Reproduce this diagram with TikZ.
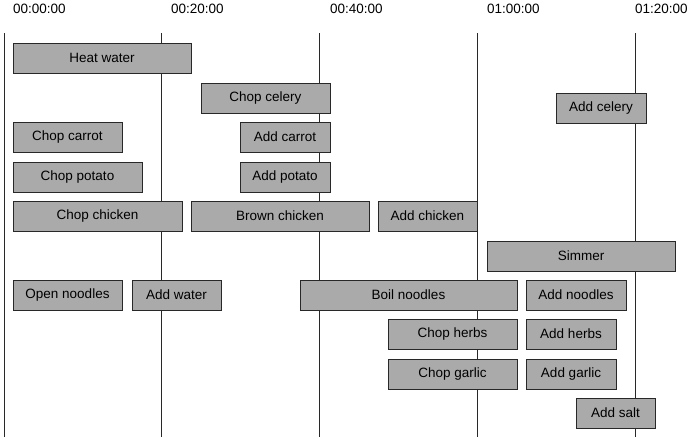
\documentclass[tikz,border=0pt]{standalone}
\usepackage{fontspec}
\setmainfont{Liberation Sans}
\usepackage{tikz}
\definecolor{taskgray}{RGB}{170,170,170}
\definecolor{edgegray}{RGB}{40,40,40}

\begin{document}
\begin{tikzpicture}[x=1pt,y=-1pt]
\tikzstyle{task} = [rectangle, anchor=north west, minimum height=30pt, inner sep=0pt, outer sep=0pt, draw=edgegray, line width=0.9pt, fill=taskgray, font=\fontsize{13.5}{16}\selectfont]
\tikzstyle{tick} = [anchor=west, inner sep=0pt, font=\fontsize{13.5}{16}\selectfont]
\tikzstyle{gridline} = [line width=0.8pt, edgegray]

\useasboundingbox (0,0) rectangle (690,442);

% time axis
\foreach \x/\lx/\t in {4/13/00:00:00, 161/171/00:20:00, 319/330/00:40:00, 477/487/01:00:00, 635/635/01:20:00} {
  \node (t\x) [tick] at (\lx,9) {\t};
  \draw [gridline] (\x,33) -- (\x,437);
}

% tasks
\node (heat) [task, minimum width=178pt] at (13,43) {Heat water};
\node (chopcel) [task, minimum width=129pt] at (201,83) {Chop celery};
\node (addcel) [task, minimum width=90pt] at (556,93) {Add celery};
\node (chopcar) [task, minimum width=109pt] at (13,122) {Chop carrot};
\node (addcar) [task, minimum width=90pt] at (240,122) {Add carrot};
\node (choppot) [task, minimum width=129pt] at (13,162) {Chop potato};
\node (addpot) [task, minimum width=90pt] at (240,162) {Add potato};
\node (chopchk) [task, minimum width=169pt] at (13,201) {Chop chicken};
\node (brown) [task, minimum width=178pt] at (191,201) {Brown chicken};
\node (addchk) [task, minimum width=99pt] at (378,201) {Add chicken};
\node (simmer) [task, minimum width=188pt] at (487,241) {Simmer};
\node (opennd) [task, minimum width=109pt] at (13,280) {Open noodles};
\node (addwat) [task, minimum width=89pt] at (132,280) {Add water};
\node (boilnd) [task, minimum width=217pt] at (300,280) {Boil noodles};
\node (addnd) [task, minimum width=100pt] at (526,280) {Add noodles};
\node (chopherb) [task, minimum width=129pt] at (388,319) {Chop herbs};
\node (addherb) [task, minimum width=90pt] at (526,319) {Add herbs};
\node (chopgar) [task, minimum width=129pt] at (388,359) {Chop garlic};
\node (addgar) [task, minimum width=90pt] at (526,359) {Add garlic};
\node (addsalt) [task, minimum width=79pt] at (576,398) {Add salt};

\end{tikzpicture}
\end{document}
